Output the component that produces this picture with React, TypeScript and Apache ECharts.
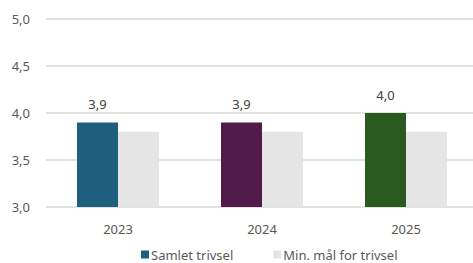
import React, { useEffect, useRef } from "react";
import * as echarts from "echarts";

const categories = ["2023", "2024", "2025"];
const samletTrivsel = [3.9, 3.9, 4.0];
const minMaal = [3.8, 3.8, 3.8];
const barColors = ["#1E5F7E", "#521A48", "#2A5A20"];
const seriesNames = ["Samlet trivsel", "Min. mål for trivsel"];

const fmt = (v: number) => v.toFixed(1).replace(".", ",");

export default function App() {
  const ref = useRef<HTMLDivElement>(null);
  useEffect(() => {
    if (!ref.current) return;
    const chart = echarts.init(ref.current, undefined, { renderer: "svg" });
    const font = "Noto Sans";
    chart.setOption({
      animation: false,
      textStyle: { fontFamily: font },
      grid: { left: 46, right: 0, top: 19, bottom: 56 },
      legend: {
        left: 141,
        top: 248,
        padding: 0,
        itemWidth: 8,
        itemHeight: 8,
        itemGap: 40,
        icon: "rect",
        textStyle: { color: "#595959", fontSize: 13, fontFamily: font, padding: [0, 0, 0, -3] },
        data: seriesNames,
      },
      xAxis: {
        type: "category",
        data: categories,
        axisLine: { show: false },
        axisTick: { show: false },
        axisLabel: { color: "#595959", fontSize: 13, margin: 15, fontFamily: font },
      },
      yAxis: {
        type: "value",
        min: 3,
        max: 5,
        interval: 0.5,
        axisLabel: {
          color: "#595959",
          fontSize: 13,
          margin: 16,
          fontFamily: font,
          formatter: (v: number) => fmt(v),
        },
        splitLine: { lineStyle: { color: "#D9D9D9", width: 1.5 } },
      },
      series: [
        {
          name: seriesNames[0],
          type: "bar",
          barWidth: 41,
          barGap: "0%",
          itemStyle: { color: barColors[0] },
          data: samletTrivsel.map((v, i) => ({ value: v, itemStyle: { color: barColors[i] } })),
          label: {
            show: true,
            position: "top",
            distance: 12,
            color: "#404040",
            fontSize: 13,
            fontFamily: font,
            formatter: (p: any) => fmt(p.value),
          },
        },
        {
          name: seriesNames[1],
          type: "bar",
          barWidth: 41,
          barGap: "0%",
          itemStyle: { color: "#E5E5E5" },
          data: minMaal,
        },
      ],
    });
    return () => chart.dispose();
  }, []);
  return (
    <div
      style={{ position: "absolute", left: 0, top: 0, width: 473, height: 263, overflow: "hidden", background: "#fff" }}
    >
      <div ref={ref} style={{ width: 478, height: 263 }} />
    </div>
  );
}
